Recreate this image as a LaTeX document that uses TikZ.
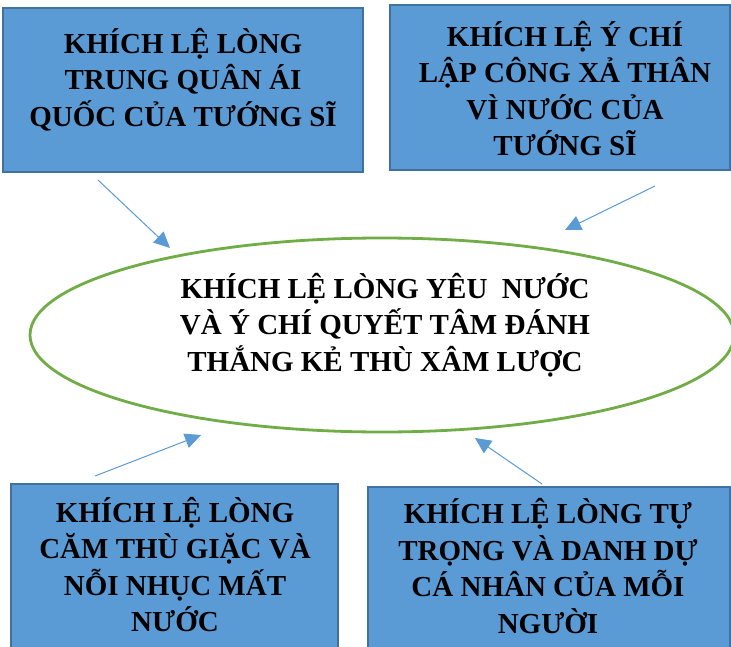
\documentclass[tikz,border=0pt]{standalone}
\usepackage{fontspec}
\setmainfont{Liberation Serif}
\usepackage{xcolor}
\usepackage{tikz}
\usetikzlibrary{arrows.meta,shapes.geometric}
\definecolor{boxblue}{HTML}{5B9BD5}
\definecolor{boxline}{HTML}{41719C}
\definecolor{ringgreen}{HTML}{70AD47}

\begin{document}
\begin{tikzpicture}[x=1pt, y=-1pt,
        box/.style = {draw=boxline, fill=boxblue, line width=1.5pt, inner sep=0pt},
        txt/.style = {align=center, inner sep=0pt, font=\fontsize{29}{36.5}\selectfont\bfseries},
        ring/.style = {draw=ringgreen, ellipse, line width=2.8pt, inner sep=0pt, minimum width=704pt, minimum height=194pt},
        push/.style = {draw=boxblue, line width=1pt, -{Triangle[length=16pt, width=15pt]}}]
        \fill[white] (0,0) rectangle (731,647);
        \path[use as bounding box, clip] (0,0) rectangle (731,647);
        % the four boxes
        \node[box, minimum width=360pt, minimum height=164pt] (loyal) at (183,90) {};
        \node[box, minimum width=340pt, minimum height=165pt] (sacrifice) at (560,87.5) {};
        \node[box, minimum width=327pt, minimum height=172pt] (hatred) at (174.5,570) {};
        \node[box, minimum width=362pt, minimum height=172pt] (honour) at (549,573) {};
        \node[txt] (loyaltext) at (183,79.5) {KHÍCH LỆ LÒNG\\TRUNG QUÂN ÁI\\QUỐC CỦA TƯỚNG SĨ};
        \node[txt] (sacrificetext) at (565,88.5) {KHÍCH LỆ Ý CHÍ\\LẬP CÔNG XẢ THÂN\\VÌ NƯỚC CỦA\\TƯỚNG SĨ};
        \node[txt] (hatredtext) at (175,564.5) {KHÍCH LỆ LÒNG\\CĂM THÙ GIẶC VÀ\\NỖI NHỤC MẤT\\NƯỚC};
        \node[txt] (honourtext) at (548,566) {KHÍCH LỆ LÒNG TỰ\\TRỌNG VÀ DANH DỰ\\CÁ NHÂN CỦA MỖI\\NGƯỜI};
        % the goal in the middle
        \node[ring] (goal) at (382,335) {};
        \node[txt] (goaltext) at (385,325) {KHÍCH LỆ LÒNG YÊU\ \ NƯỚC\\VÀ Ý CHÍ QUYẾT TÂM ĐÁNH\\THẮNG KẺ THÙ XÂM LƯỢC};
        % arrows
        \coordinate (loyalfrom) at (98,180);
        \coordinate (loyalto) at (170,248);
        \coordinate (sacrificefrom) at (655,186);
        \coordinate (sacrificeto) at (565,230);
        \coordinate (hatredfrom) at (95,476);
        \coordinate (hatredto) at (201,435);
        \coordinate (honourfrom) at (542,484);
        \coordinate (honourto) at (475,438);
        \draw[push] (loyalfrom) -- (loyalto);
        \draw[push] (sacrificefrom) -- (sacrificeto);
        \draw[push] (hatredfrom) -- (hatredto);
        \draw[push] (honourfrom) -- (honourto);
    \end{tikzpicture}
\end{document}
